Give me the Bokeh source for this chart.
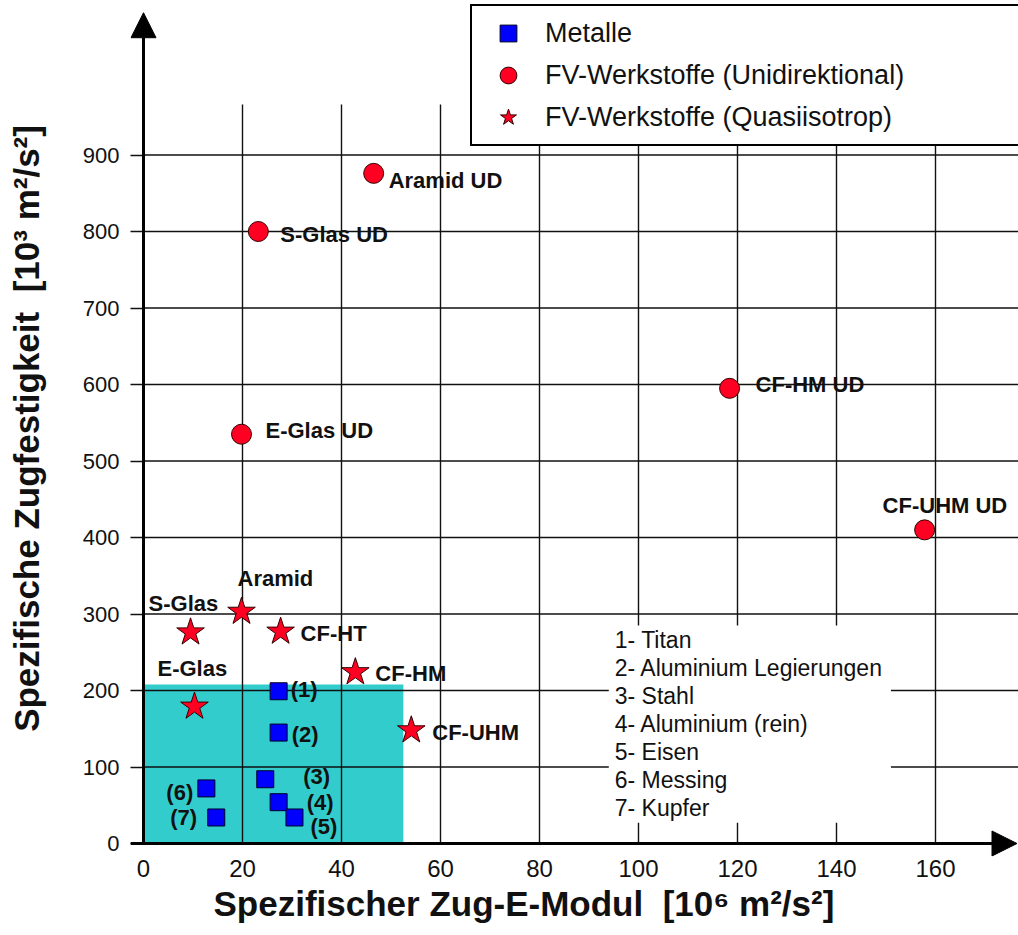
from bokeh.plotting import figure
from bokeh.models import (Range1d, FixedTicker, Arrow, NormalHead, Legend, LegendItem,
                          Title, ColumnDataSource)
from bokeh.core.properties import value
from bokeh.embed import file_html
from bokeh.resources import INLINE

# ---------------- data ----------------
metal_ids = ["(1)", "(2)", "(3)", "(4)", "(5)", "(6)", "(7)"]
metal_names = ["Titan", "Aluminium Legierungen", "Stahl", "Aluminium (rein)",
               "Eisen", "Messing", "Kupfer"]
metal_modulus = [27.3, 27.3, 24.6, 27.3, 30.5, 12.7, 14.7]
metal_strength = [199, 145, 84, 54, 34, 72, 34]

ud_names = ["Aramid UD", "S-Glas UD", "E-Glas UD", "CF-HM UD", "CF-UHM UD"]
ud_modulus = [46.5, 23.2, 19.8, 118.4, 157.8]
ud_strength = [876, 800, 535, 595, 410]

qi_names = ["S-Glas", "Aramid", "CF-HT", "E-Glas", "CF-HM", "CF-UHM"]
qi_modulus = [9.5, 19.8, 27.7, 10.3, 42.8, 54.1]
qi_strength = [276, 303, 277, 179, 224, 148]

metal_region_modulus = 52.5
metal_region_strength = 208

x_ticks = [0, 20, 40, 60, 80, 100, 120, 140, 160]
y_ticks = [0, 100, 200, 300, 400, 500, 600, 700, 800, 900]

legend_labels = ["Metalle", "FV-Werkstoffe (Unidirektional)", "FV-Werkstoffe (Quasiisotrop)"]
x_title = "Spezifischer Zug-E-Modul \u00a0[10\u2076 m\u00b2/s\u00b2]"
y_title = "Spezifische Zugfestigkeit \u00a0[10\u00b3 m\u00b2/s\u00b2]"

# ---------------- layout / style ----------------
W, H = 1018, 935
BL, BB = 130, 79
SX, SY = 4.95, 0.765            # px per data unit
X0 = -13 / SX
Y0 = -13 / SY
X_MAX = X0 + (W - BL) / SX
Y_MAX = Y0 + (H - BB) / SY
GRID_TOP = 966
FONT = value("Liberation Sans")

ud_off = [(15, 7), (22, 3), (24, -4), (26, -4), (-42, -24)]
qi_off = [(-42, -29), (-4, -33), (20, 2), (-37, -38), (20, 1), (21, 2)]
metal_off = [(12, -2), (13, 2), (38, -3), (28, 0), (16, 9), (-40, 4), (-46, 0)]

p = figure(width=W, height=H, output_backend="svg", toolbar_location=None,
           x_range=Range1d(X0, X_MAX), y_range=Range1d(Y0, Y_MAX),
           min_border_left=BL, min_border_right=0, min_border_top=0,
           min_border_bottom=BB)
p.outline_line_color = None
p.xgrid.visible = False
p.ygrid.visible = False
p.background_fill_color = "white"

# axes (lines drawn as arrows below)
for ax in (p.xaxis[0], p.yaxis[0]):
    ax.axis_line_color = None
    ax.major_label_text_font = "Liberation Sans"
    ax.major_label_text_color = "#111111"
    ax.minor_tick_line_color = None
p.xaxis.ticker = FixedTicker(ticks=x_ticks)
p.yaxis.ticker = FixedTicker(ticks=y_ticks)
p.xaxis.major_tick_line_color = None
p.xaxis.major_tick_out = 0
p.xaxis.major_tick_in = 0
p.xaxis.major_label_standoff = 3
p.xaxis.major_label_text_font_size = "24px"
p.yaxis.major_tick_out = 0
p.yaxis.major_tick_in = 13
p.yaxis.major_tick_line_width = 1.5
p.yaxis.major_tick_line_color = "#111111"
p.yaxis.major_label_standoff = 11
p.yaxis.major_label_text_font_size = "22px"
p.yaxis.axis_label = y_title
p.yaxis.axis_label_standoff = 34
p.yaxis.axis_label_text_font = "Liberation Sans"
p.yaxis.axis_label_text_font_style = "bold"
p.yaxis.axis_label_text_font_size = "35px"
p.yaxis.axis_label_text_color = "#111111"

p.add_layout(Title(text=x_title, align="left", offset=83, standoff=5,
                   text_font="Liberation Sans", text_font_style="bold",
                   text_font_size="35px", text_color="#111111"), "below")

# metals region
p.quad(left=0, right=metal_region_modulus, bottom=0, top=metal_region_strength,
       fill_color="#33CCCC", line_color=None)

# grid lines
p.segment(x0=x_ticks[1:], y0=0, x1=x_ticks[1:], y1=GRID_TOP,
          line_color="#111111", line_width=1.4)
p.segment(x0=0, y0=y_ticks[1:], x1=X_MAX, y1=y_ticks[1:],
          line_color="#111111", line_width=1.4)

# white panel for metal list
p.quad(left=94, right=151, bottom=27, top=285, fill_color="white", line_color=None)

# axis arrows
p.add_layout(Arrow(end=NormalHead(size=25, fill_color="black", line_color="black"),
                   x_start=0, y_start=0, x_end=0, y_end=1086,
                   line_width=3, line_color="black"))
p.add_layout(Arrow(end=NormalHead(size=25, fill_color="black", line_color="black"),
                   x_start=X0, y_start=0, x_end=X_MAX - 0.3, y_end=0,
                   line_width=3, line_color="black"))

# markers
r_sq = p.scatter(metal_modulus, metal_strength, marker="square", size=17,
                 fill_color="#0000FF", line_color="#000022", line_width=1)
r_ci = p.scatter(ud_modulus, ud_strength, marker="circle", size=20,
                 fill_color="#FF0022", line_color="#330000", line_width=1)
r_st = p.scatter(qi_modulus, qi_strength, marker="star", size=29,
                 fill_color="#FF0022", line_color="#330000", line_width=1)

# point labels
def add_labels(xs, ys, names, offs):
    src = ColumnDataSource(dict(x=xs, y=ys, t=names,
                                dx=[o[0] for o in offs], dy=[o[1] for o in offs]))
    p.text(x="x", y="y", text="t", x_offset="dx", y_offset="dy", source=src,
           text_font=FONT, text_font_style="bold", text_font_size="22px",
           text_baseline="middle", text_align="left", text_color="#111111")

add_labels(ud_modulus, ud_strength, ud_names, ud_off)
add_labels(qi_modulus, qi_strength, qi_names, qi_off)
add_labels(metal_modulus, metal_strength, metal_ids, metal_off)

# metal list
LIST_X, LIST_TOP, LIST_STEP = 95.2, 265.4, 36.6
list_src = ColumnDataSource(dict(
    x=[LIST_X] * len(metal_names),
    y=[LIST_TOP - i * LIST_STEP for i in range(len(metal_names))],
    t=[f"{i + 1}- {n}" for i, n in enumerate(metal_names)]))
p.text(x="x", y="y", text="t", source=list_src, text_font=FONT,
       text_font_size="23px", text_baseline="middle", text_align="left",
       text_color="#111111")

# legend
legend = Legend(items=[LegendItem(label=legend_labels[0], renderers=[r_sq]),
                       LegendItem(label=legend_labels[1], renderers=[r_ci]),
                       LegendItem(label=legend_labels[2], renderers=[r_st])],
                location=(340, 710), margin=0, padding=6, spacing=0,
                glyph_width=60, glyph_height=42, label_height=42, label_standoff=7,
                label_width=500, label_text_font="Liberation Sans",
                label_text_font_size="27px", label_text_color="#111111",
                border_line_color="black", border_line_width=2.5,
                border_line_alpha=1.0,
                background_fill_color="white", background_fill_alpha=1.0)
p.add_layout(legend)

open("out.html", "w").write(file_html(p, INLINE))
